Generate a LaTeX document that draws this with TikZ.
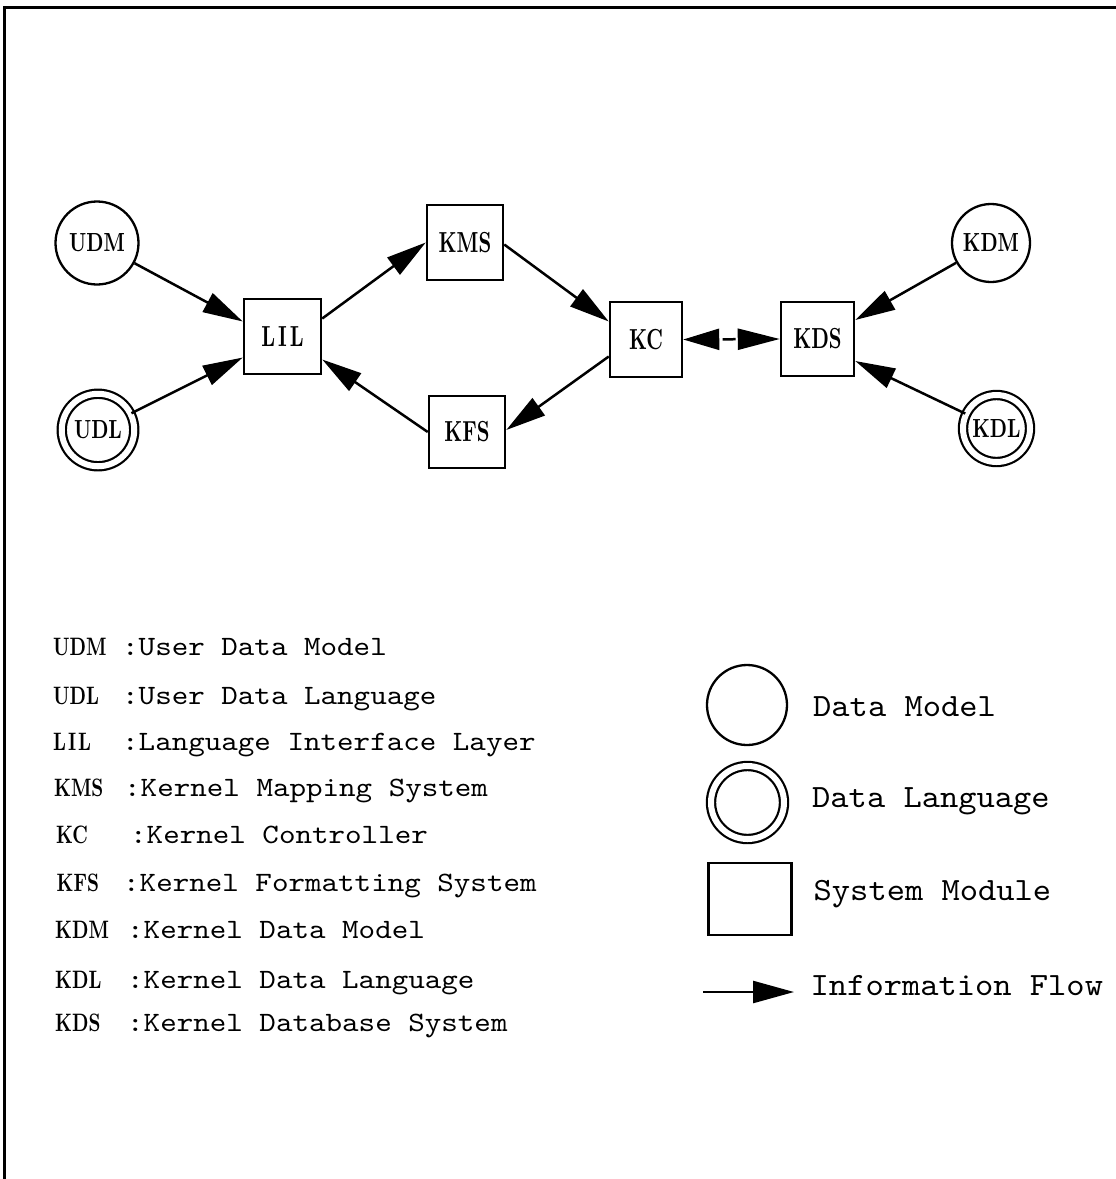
\documentclass[tikz,border=0pt]{standalone}
\usepackage{fontspec}
\usepackage{graphicx}
\usetikzlibrary{arrows.meta,calc}
% scaled 10pt designs (heavier strokes, condensed like the original)
\newcommand\boxtxt[1]{\scalebox{2.0}[2.9]{\fontsize{10}{12}\selectfont\bfseries #1}}
\newcommand\circtxt[1]{\scalebox{1.95}[2.62]{\fontsize{10}{12}\selectfont\bfseries #1}}
\newcommand\abtxt[1]{\scalebox{1.87}[2.52]{\fontsize{10}{12}\selectfont\bfseries #1}}
\newcommand\dstxt[1]{\scalebox{3.15}[2.8]{\fontsize{10}{12}\selectfont\ttfamily #1}}
\newcommand\lgtxt[1]{\scalebox{3.48}[3.25]{\fontsize{10}{12}\selectfont\ttfamily #1}}
\begin{document}
\begin{tikzpicture}[x=1pt,y=-1pt,
  mod/.style={draw,line width=2.5pt,inner sep=0pt,minimum width=76pt,minimum height=75pt},
  dmodel/.style={draw,circle,line width=2.3pt,inner sep=0pt,minimum size=82pt},
  dlang/.style={draw,circle,line width=2.2pt,double=white,double distance=6pt,inner sep=0pt,minimum size=72pt},
  flow/.style={line width=2.5pt,-{Triangle[length=40pt,width=21pt]}},
  txt/.style={anchor=base west,inner sep=0pt},
]
\useasboundingbox (0,0) rectangle (1116,1179);
% frame
\draw[line width=3pt] (4,1179) -- (4,7) -- (1116,7);

% diagram nodes
\node[dmodel,minimum size=83pt] (UDM) at (97,243) {\circtxt{UDM}};
\node[dlang,minimum size=72.5pt] (UDL) at (98,430) {\circtxt{UDL}};
\node[mod,minimum width=77pt] (LIL) at (282.5,336.5) {\boxtxt{L\kern1.5pt I\kern1.5pt L}};
\node[mod] (KMS) at (465,242.5) {\boxtxt{KMS}};
\node[mod,minimum height=72pt] (KFS) at (467,432) {\boxtxt{KFS}};
\node[mod,minimum width=72pt] (KC) at (646,339.5) {\boxtxt{KC}};
\node[mod,minimum width=73pt,minimum height=74pt] (KDS) at (817.5,339) {\boxtxt{KDS}};
\node[dmodel,minimum size=78pt] (KDM) at (991,243) {\circtxt{KDM}};
\node[dlang,minimum size=67pt] (KDL) at (996.5,428.5) {\circtxt{KDL}};

% connectors
\draw[flow] (UDM) -- ($(LIL.west)+(0,-15)$);
\draw[flow] (UDL) -- ($(LIL.west)+(0,21)$);
\draw[flow] ($(LIL.east)+(0,-18)$) -- (KMS.west);
\draw[flow] (KFS.west) -- ($(LIL.east)+(0,23)$);
\draw[flow] ($(KMS.east)+(0,2)$) -- ($(KC.west)+(0,-18)$);
\draw[flow] ($(KC.west)+(0,17)$) -- ($(KFS.east)+(0,-2)$);
\draw[flow] (KDM) -- ($(KDS.east)+(0,-19)$);
\draw[flow] (KDL) -- ($(KDS.east)+(0,22)$);
\draw[line width=2.5pt,{Triangle[length=36pt,width=21pt]}-{Triangle[length=42pt,width=21pt]},
      dash pattern=on 13pt off 7pt,dash phase=16pt] (KC.east) -- (KDS.west);

% left legend
\node[txt] (aUDM) at (53,655) {\abtxt{UDM}};
\node[txt] (dUDM) at (122,655) {\dstxt{:User Data Model}};
\node[txt] (aUDL) at (53,704) {\abtxt{UDL}};
\node[txt] (dUDL) at (122,704) {\dstxt{:User Data Language}};
\node[txt] (aLIL) at (53,750) {\abtxt{L\kern1pt I\kern1pt L}};
\node[txt] (dLIL) at (122,750) {\dstxt{:Language Interface Layer}};
\node[txt] (aKMS) at (54,796.5) {\abtxt{KMS}};
\node[txt] (dKMS) at (124,796.5) {\dstxt{:Kernel Mapping System}};
\node[txt] (aKC) at (56,843) {\abtxt{KC}};
\node[txt] (dKC) at (130,843) {\dstxt{:Kernel Controller}};
\node[txt] (aKFS) at (56.5,891.5) {\abtxt{KFS}};
\node[txt] (dKFS) at (123,891.5) {\dstxt{:Kernel Formatting System}};
\node[txt] (aKDM) at (55,938) {\abtxt{KDM}};
\node[txt] (dKDM) at (127,938) {\dstxt{:Kernel Data Model}};
\node[txt] (aKDL) at (55,988) {\abtxt{KDL}};
\node[txt] (dKDL) at (127,988) {\dstxt{:Kernel Data Language}};
\node[txt] (aKDS) at (55,1031.5) {\abtxt{KDS}};
\node[txt] (dKDS) at (127,1031.5) {\dstxt{:Kernel Database System}};

% right legend
\node[dmodel,minimum size=80pt] (lgDM) at (747,705) {};
\node[dlang,minimum size=73pt] (lgDL) at (747.5,802.5) {};
\node[mod,minimum width=83pt,minimum height=72pt] (lgSM) at (750,899) {};
\coordinate (fa) at (703,992);
\coordinate (fb) at (794,992);
\draw[line width=2.5pt,-{Triangle[length=41pt,width=22pt]}] (fa) -- (fb);
\node[txt] (tDM) at (813,716.5) {\lgtxt{Data Model}};
\node[txt] (tDL) at (812,807.5) {\lgtxt{Data Language}};
\node[txt] (tSM) at (813.5,900) {\lgtxt{System Module}};
\node[txt] (tIF) at (810.5,995) {\lgtxt{Information Flow}};
\end{tikzpicture}
\end{document}
